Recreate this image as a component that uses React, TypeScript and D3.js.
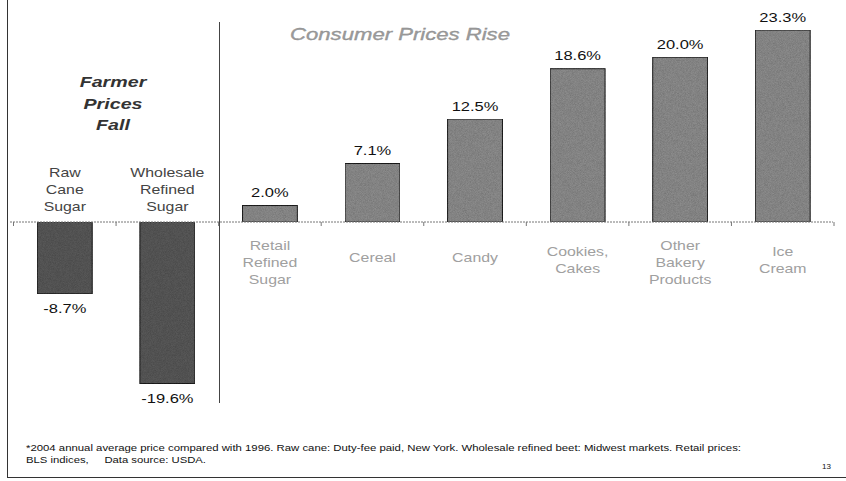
import React from "react";
import * as d3 from "d3";

const categories = [
  "Raw Cane Sugar",
  "Wholesale Refined Sugar",
  "Retail Refined Sugar",
  "Cereal",
  "Candy",
  "Cookies, Cakes",
  "Other Bakery Products",
  "Ice Cream",
];
const categoryLines = [
  ["Raw", "Cane", "Sugar"],
  ["Wholesale", "Refined", "Sugar"],
  ["Retail", "Refined", "Sugar"],
  ["Cereal"],
  ["Candy"],
  ["Cookies,", "Cakes"],
  ["Other", "Bakery", "Products"],
  ["Ice", "Cream"],
];
const values = [-8.7, -19.6, 2.0, 7.1, 12.5, 18.6, 20.0, 23.3];
const valueLabels = ["-8.7%", "-19.6%", "2.0%", "7.1%", "12.5%", "18.6%", "20.0%", "23.3%"];
const leftTitle = ["Farmer", "Prices", "Fall"];
const rightTitle = "Consumer Prices Rise";
const footnote = [
  "*2004 annual average price compared with 1996. Raw cane: Duty-fee paid, New York. Wholesale refined beet: Midwest markets. Retail prices:",
  "BLS indices,     Data source: USDA.",
];
const pageNumber = "13";

const W = 846;
const H = 481;
const FONT = "'Liberation Sans', Arial, Helvetica, sans-serif";
const SX = 1.27;

function ST(props: any) {
  const { x, y, sx = SX, children, ...rest } = props;
  return (
    <text transform={`translate(${x},${y}) scale(${sx},1)`} textAnchor="middle" {...rest}>
      {children}
    </text>
  );
}

export default function App() {
  const x = d3
    .scaleBand<string>()
    .domain(categories)
    .range([13.5, 834])
    .paddingInner(0.465)
    .paddingOuter(0.2325);
  const y = d3.scaleLinear().domain([-20, 25]).range([222 + 20 * 8.24, 222 - 25 * 8.24]);
  const y0 = y(0);
  const step = x.step();
  const ticks = d3.range(categories.length + 1).map((i) => x.range()[0] + i * step);

  return (
    <svg width={W} height={H} style={{ position: "absolute", left: 0, top: 0, background: "#fff" }} fontFamily={FONT}>
      <defs>
        <filter id="grain" x="0" y="0" width="100%" height="100%">
          <feTurbulence type="fractalNoise" baseFrequency="1.4" numOctaves="1" seed="3" result="n" />
          <feColorMatrix
            in="n"
            type="matrix"
            values="0 0 0 0 0  0 0 0 0 0  0 0 0 0 0  0 0 0 0.5 0"
            result="dots"
          />
          <feComposite in="dots" in2="SourceGraphic" operator="in" result="m" />
          <feMerge>
            <feMergeNode in="SourceGraphic" />
            <feMergeNode in="m" />
          </feMerge>
        </filter>
      </defs>
      <rect x={0} y={0} width={W} height={H} fill="#fff" />
      {/* frame */}
      <line x1={7.5} y1={0} x2={7.5} y2={477} stroke="#333" strokeWidth={1} />
      <line x1={7} y1={477.5} x2={846} y2={477.5} stroke="#333" strokeWidth={1} />

      {/* divider */}
      <line x1={219.5} y1={22} x2={219.5} y2={403} stroke="#444" strokeWidth={1} />

      {/* bars */}
      {categories.map((c, i) => {
        const v = values[i];
        const top = Math.min(y(v), y0);
        const h = Math.abs(y(v) - y0);
        return (
          <rect
            key={c}
            x={x(c)}
            y={top}
            width={x.bandwidth()}
            height={h}
            fill={v < 0 ? "#5e5e5e" : "#959595"}
            stroke="#222"
            strokeWidth={1}
            filter="url(#grain)"
          />
        );
      })}

      {/* axis */}
      <line x1={10} y1={y0} x2={833} y2={y0} stroke="#777" strokeWidth={1} strokeDasharray="2,1" />
      {ticks.map((t, i) => (
        <line key={i} x1={t} y1={y0} x2={t} y2={y0 + 4} stroke="#777" strokeWidth={1} />
      ))}

      {/* value labels */}
      {categories.map((c, i) => {
        const v = values[i];
        const cx = (x(c) as number) + x.bandwidth() / 2;
        const ty = v < 0 ? y(v) + 19 : y(v) - 8.5;
        return (
          <ST key={c} x={cx} y={ty} fontSize={13} fill="#111">
            {valueLabels[i]}
          </ST>
        );
      })}

      {/* category labels */}
      {categories.map((c, i) => {
        const cx = (x(c) as number) + x.bandwidth() / 2;
        const lines = categoryLines[i];
        if (values[i] < 0) {
          const lh = 17;
          return (
            <g key={c}>
              {lines.map((l, j) => (
                <ST key={j} x={cx} y={y0 - 11.5 - (lines.length - 1 - j) * lh} fontSize={12.5} fill="#444">
                  {l}
                </ST>
              ))}
            </g>
          );
        }
        const lh = 17;
        const startY = 262 - (lines.length - 1) * 6;
        return (
          <g key={c}>
            {lines.map((l, j) => (
              <ST key={j} x={cx} y={startY + j * lh} fontSize={12.5} fill="#a0a0a0">
                {l}
              </ST>
            ))}
          </g>
        );
      })}

      {/* titles */}
      {leftTitle.map((l, j) => (
        <ST key={j} x={113} y={87 + j * 21.5} fontSize={15.5} fontStyle="italic" fontWeight="bold" fill="#333">
          {l}
        </ST>
      ))}
      <ST x={400} y={40} sx={1.34} fontSize={16.5} fontStyle="italic" fill="#9c9c9c" stroke="#888" strokeWidth={0.3}>
        {rightTitle}
      </ST>

      {/* footnote */}
      <text x={26} y={451} fontSize={9.5} fill="#111" textLength={715} lengthAdjust="spacingAndGlyphs">
        {footnote[0]}
      </text>
      <text
        x={26}
        y={463}
        fontSize={9.5}
        fill="#111"
        textLength={180}
        lengthAdjust="spacingAndGlyphs"
        style={{ whiteSpace: "pre" }}
      >
        {footnote[1]}
      </text>
      <text x={822} y={469} fontSize={8} fill="#111">
        {pageNumber}
      </text>
    </svg>
  );
}
